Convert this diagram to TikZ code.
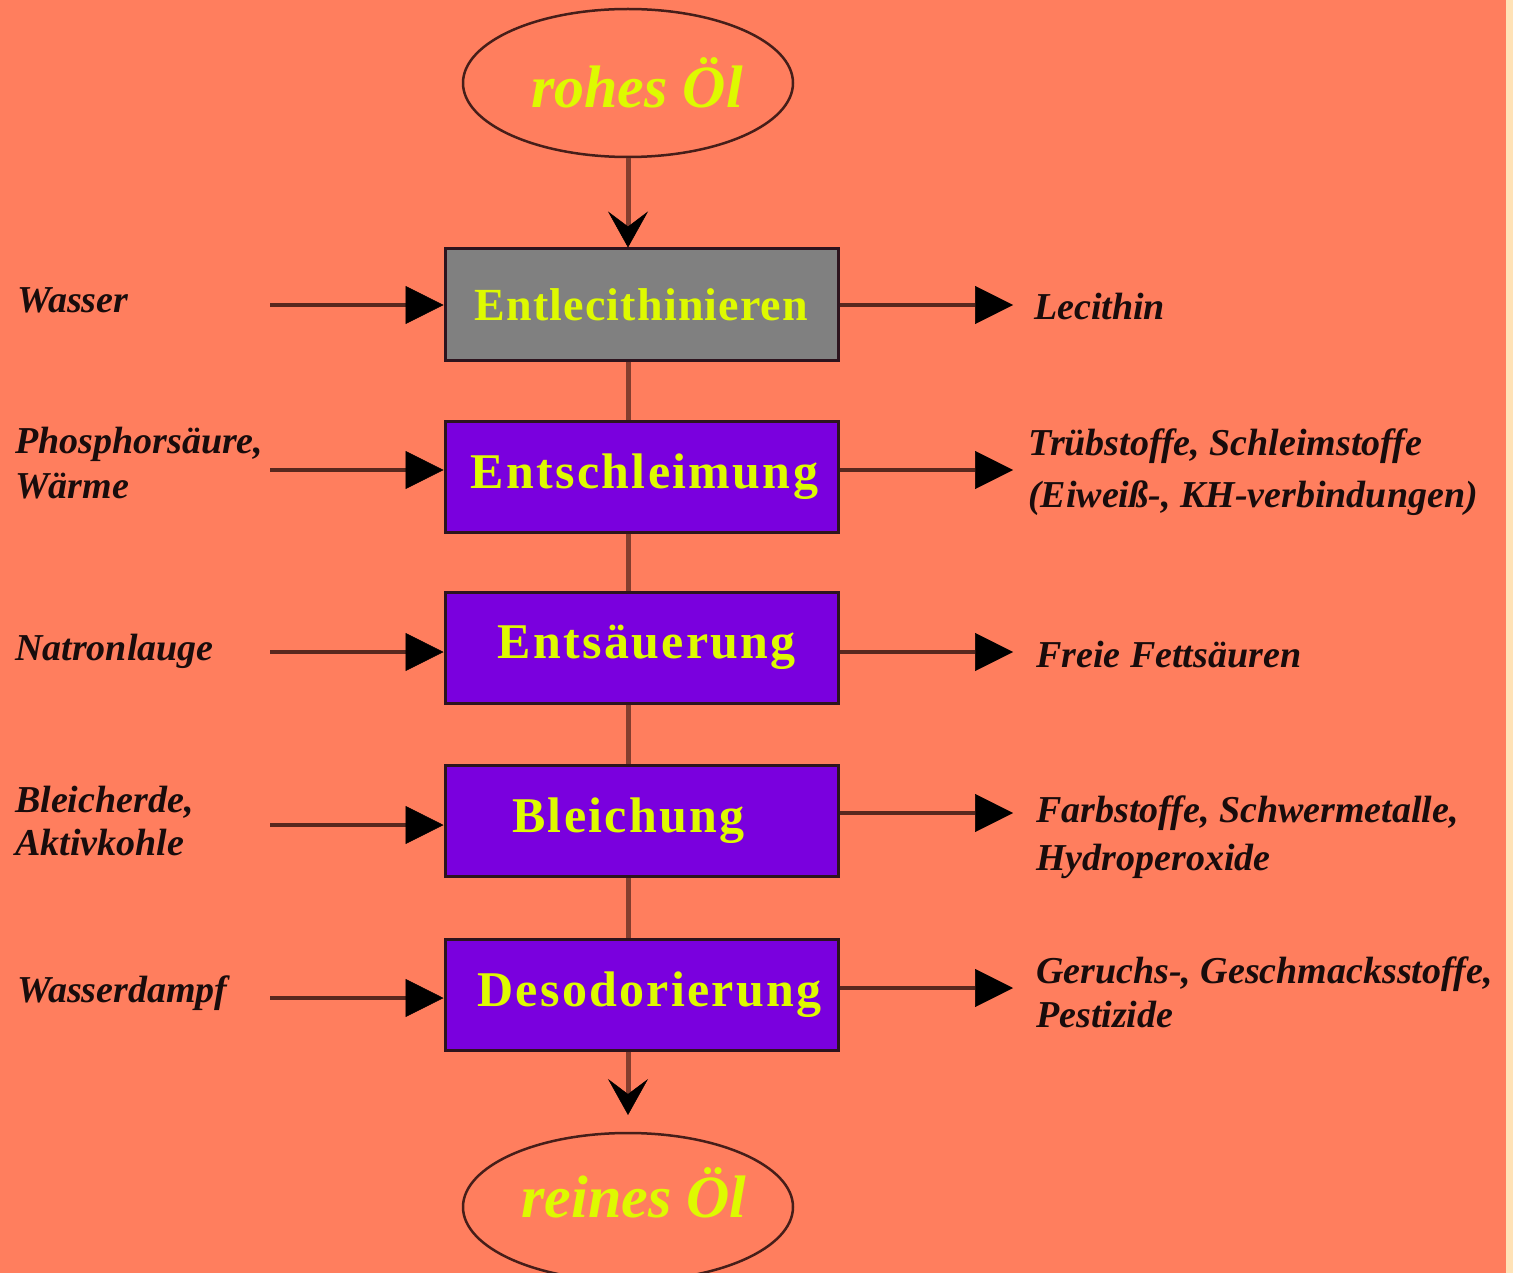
\documentclass[tikz,border=0pt]{standalone}
\usepackage{fontspec}
\setmainfont{Liberation Serif}
\newfontfamily\boxfont[LetterSpace=4.6]{Liberation Serif}
\newfontfamily\boxfonttight[LetterSpace=2.5]{Liberation Serif}
\usetikzlibrary{shapes.geometric,arrows.meta,calc}
\definecolor{bgcol}{RGB}{255,126,94}
\definecolor{stripcol}{RGB}{255,226,182}
\definecolor{purplecol}{RGB}{122,0,222}
\definecolor{graycol}{RGB}{128,128,128}
\definecolor{txtyellow}{RGB}{222,250,0}
\definecolor{linecol}{RGB}{88,40,30}
\definecolor{vlinecol}{RGB}{132,62,46}
\definecolor{boxedge}{RGB}{45,20,30}
\definecolor{ovaledge}{RGB}{70,30,25}
\definecolor{lblcol}{RGB}{25,12,12}
\newcommand{\twoline}[3]{\vtop{\baselineskip=#3\relax\hbox{#1}\hbox{#2}}}
\begin{document}
\begin{tikzpicture}[x=1pt,y=-1pt,
  lbl/.style={anchor=base west, inner sep=0pt, text=lblcol,
    font=\fontsize{38}{45}\selectfont\bfseries\itshape},
  stepbox/.style={draw=boxedge, line width=3pt, minimum width=393pt,
    minimum height=111pt, inner sep=0pt, text=txtyellow,
    font=\fontsize{50}{50}\selectfont\boxfont\bfseries},
  oval/.style={ellipse, draw=ovaledge, line width=2.5pt, minimum width=330pt,
    minimum height=148pt, inner sep=0pt},
  ovaltxt/.style={inner sep=0pt, text=txtyellow,
    font=\fontsize{60}{60}\selectfont\bfseries\itshape},
  feed/.style={draw=linecol, line width=4pt,
    -{Triangle[length=38pt,width=38pt,color=black,line width=0.5pt]}},
  flow/.style={draw=vlinecol, line width=5pt,
    -{Stealth[length=36pt,width=40pt,inset=15pt,color=black,line width=0.5pt]}},
  link/.style={draw=vlinecol, line width=5pt}]
\useasboundingbox (0,0) rectangle (1513,1273);
\fill[bgcol] (0,0) rectangle (1513,1273);
\fill[stripcol] (1506,0) rectangle (1513,1273);

% ovals
\node[oval] (raw) at (628,83) {};
\node[ovaltxt] (rawtxt) at ($(raw.center)+(9,0)$) {rohes Öl};
\node[oval] (pure) at (628,1207) {};
\node[ovaltxt] (puretxt) at ($(pure.center)+(6,-14)$) {reines Öl};

% process boxes
\node[stepbox, fill=graycol, font=\fontsize{46}{46}\selectfont\boxfonttight\bfseries] (b1) at (641.5,304.5) {Entlecithinieren};
\node[stepbox, fill=purplecol] (b2) at (641.5,477) {\hspace*{6pt}Entschleimung};
\node[stepbox, fill=purplecol] (b3) at (641.5,647.5) {\hspace*{11pt}Entsäuerung};
\node[stepbox, fill=purplecol] (b4) at (641.5,821) {Bleichung\hspace*{26pt}};
\node[stepbox, fill=purplecol] (b5) at (641.5,994.5) {\hspace*{16pt}Desodorierung};

% main axis
\coordinate (axis) at (628,0);
\coordinate (tip) at (628,1115);
\draw[flow] (raw.south) -- (axis |- b1.north);
\draw[link] (axis |- b1.south) -- (axis |- b2.north);
\draw[link] (axis |- b2.south) -- (axis |- b3.north);
\draw[link] (axis |- b3.south) -- (axis |- b4.north);
\draw[link] (axis |- b4.south) -- (axis |- b5.north);
\draw[flow] (axis |- b5.south) -- (tip);

% inputs
\coordinate (i1) at (270,305);
\coordinate (i2) at (270,470);
\coordinate (i3) at (270,652);
\coordinate (i4) at (270,825);
\coordinate (i5) at (270,998);
\draw[feed] (i1) -- (i1 -| b1.west);
\draw[feed] (i2) -- (i2 -| b2.west);
\draw[feed] (i3) -- (i3 -| b3.west);
\draw[feed] (i4) -- (i4 -| b4.west);
\draw[feed] (i5) -- (i5 -| b5.west);

% outputs
\coordinate (o1) at (1013,305);
\coordinate (o2) at (1013,470);
\coordinate (o3) at (1013,652);
\coordinate (o4) at (1013,813);
\coordinate (o5) at (1013,988);
\draw[feed] (o1 -| b1.east) -- (o1);
\draw[feed] (o2 -| b2.east) -- (o2);
\draw[feed] (o3 -| b3.east) -- (o3);
\draw[feed] (o4 -| b4.east) -- (o4);
\draw[feed] (o5 -| b5.east) -- (o5);

% left labels
\node[lbl] (l1) at (17,313) {Wasser};
\node[lbl] (l2) at (15,453) {\twoline{Phosphorsäure,}{Wärme}{45pt}};
\node[lbl] (l3) at (15,660) {Natronlauge};
\node[lbl] (l4) at (15,812) {\twoline{Bleicherde,}{Aktivkohle}{43pt}};
\node[lbl] (l5) at (17,1002) {Wasserdampf};

% right labels
\node[lbl] (r1) at (1034,320) {Lecithin};
\node[lbl] (r2) at (1028,455) {\twoline{Trübstoffe, Schleimstoffe}{(Eiweiß-, KH-verbindungen)}{52pt}};
\node[lbl] (r3) at (1036,667) {Freie Fettsäuren};
\node[lbl] (r4) at (1036,822) {\twoline{Farbstoffe, Schwermetalle,}{Hydroperoxide}{48pt}};
\node[lbl] (r5) at (1036,983) {\twoline{Geruchs-, Geschmacksstoffe,}{Pestizide}{44pt}};
\end{tikzpicture}
\end{document}
